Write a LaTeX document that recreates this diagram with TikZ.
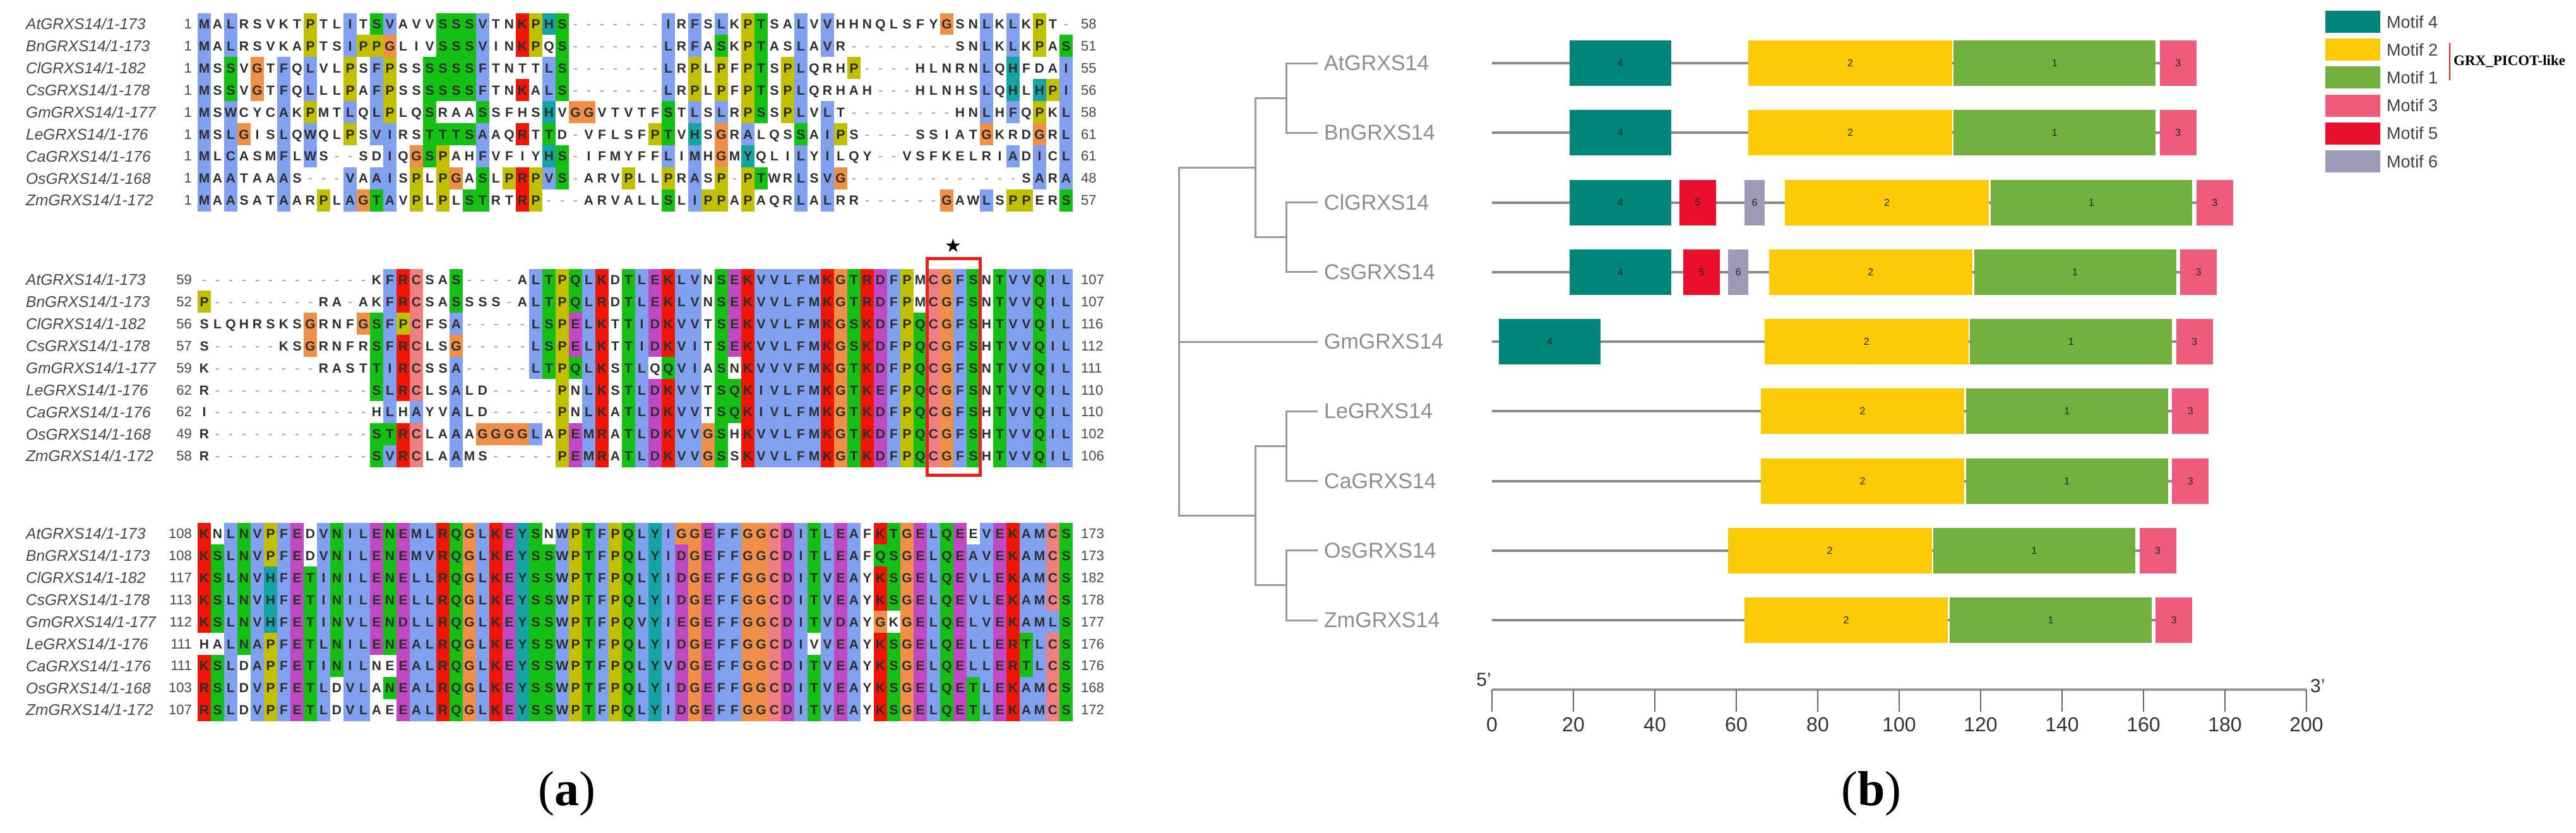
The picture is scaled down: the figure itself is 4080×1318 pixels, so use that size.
\documentclass[tikz,border=0pt]{standalone}
\usepackage{fontspec}
\setmainfont{Liberation Serif}
\setsansfont{Liberation Sans}
\newfontfamily\dejavu{DejaVu Sans}

\definecolor{cxblue}{HTML}{80A0F0}
\definecolor{cxred}{HTML}{F01505}
\definecolor{cxgreen}{HTML}{15C015}
\definecolor{cxpink}{HTML}{F08080}
\definecolor{cxmag}{HTML}{C048C0}
\definecolor{cxorange}{HTML}{F09048}
\definecolor{cxyellow}{HTML}{C0C000}
\definecolor{cxcyan}{HTML}{15A4A4}
\definecolor{reslet}{HTML}{2E2E2E}
\definecolor{gapgray}{HTML}{9A9A9A}
\definecolor{nmgray}{HTML}{484848}
\definecolor{mfour}{HTML}{00857A}
\definecolor{mtwo}{HTML}{FCCB05}
\definecolor{mone}{HTML}{70B03C}
\definecolor{mthree}{HTML}{EF5B7B}
\definecolor{mfive}{HTML}{E8102A}
\definecolor{msix}{HTML}{9C9AB5}
\definecolor{lblgray}{HTML}{8E8E8E}
\definecolor{treegray}{HTML}{9A9A9A}
\definecolor{bbgray}{HTML}{8A8A8A}
\definecolor{axgray}{HTML}{333333}
\definecolor{boxred}{HTML}{E8201E}

\newcommand\ColW{21}
\newcommand\RowH{34.9}
\newcommand\XZero{313}

\tikzset{
  res/.style={font=\sffamily\bfseries\fontsize{21}{23}\selectfont, text=reslet, inner sep=0pt, anchor=base},
  gapch/.style={font=\sffamily\fontsize{22}{24}\selectfont, text=gapgray, inner sep=0pt, anchor=base},
  nm/.style={font=\sffamily\itshape\fontsize{24.5}{26}\selectfont, text=nmgray, anchor=west, inner sep=0pt},
  num/.style={font=\sffamily\fontsize{22}{24}\selectfont, text=nmgray, inner sep=0pt},
  glbl/.style={font=\sffamily\fontsize{34}{36}\selectfont, text=lblgray, anchor=west, inner sep=0pt},
  mlab/.style={font=\sffamily\fontsize{16}{18}\selectfont, text=black!85, inner sep=0pt},
  leg/.style={font=\sffamily\fontsize{27}{29}\selectfont, text=black!75, anchor=west, inner sep=0pt},
  ticklab/.style={font=\sffamily\fontsize{32}{34}\selectfont, text=axgray, inner sep=0pt},
  treeline/.style={draw=treegray, line width=3pt},
  bb/.style={draw=bbgray, line width=4pt},
  capstyle/.style={font=\fontsize{78}{80}\selectfont, inner sep=0pt}
}

\newcommand\aCell[3]{\fill[fill=#1] (#2,#3) rectangle ++(\ColW,\RowH);}
\newcommand\aChar[3]{\node[res] at (#1,#2) {#3};}
\newcommand\aGap[2]{\node[gapch] at (#1,#2) {-};}

\ExplSyntaxOn
\int_new:N \l__aln_hyd_int
\int_new:N \l__aln_kr_int
\int_new:N \l__aln_krq_int
\int_new:N \l__aln_qe_int
\int_new:N \l__aln_ed_int
\int_new:N \l__aln_ts_int
\int_new:N \l__aln_mEQD_int
\int_new:N \l__aln_mKRQ_int
\int_new:N \l__aln_mEQDKR_int
\int_new:N \l__aln_mST_int
\int_new:N \l__aln_mAro_int
\tl_new:N \l__aln_ch_tl
\tl_new:N \l__aln_color_tl
\str_const:Nn \c__aln_letters_str {ACDEFGHIKLMNPQRSTVWY}
\str_map_inline:Nn \c__aln_letters_str { \int_new:c {l__aln_c_#1_int} }
\int_step_inline:nn {9} { \str_new:c {l__aln_row_#1_str} }

\cs_new:Npn \__aln_c:n #1 { \int_use:c {l__aln_c_#1_int} }

\cs_new_protected:Npn \__aln_sumof:Nn #1#2
  { \int_zero:N #1 \str_map_inline:nn {#2} { \int_add:Nn #1 { \int_use:c {l__aln_c_##1_int} } } }
\cs_new_protected:Npn \__aln_maxof:Nn #1#2
  { \int_zero:N #1 \str_map_inline:nn {#2} { \int_set:Nn #1 { \int_max:nn {#1} { \int_use:c {l__aln_c_##1_int} } } } }

\cs_new_protected:Npn \__aln_count_col:n #1
  {
    \str_map_inline:Nn \c__aln_letters_str { \int_zero:c {l__aln_c_##1_int} }
    \int_step_inline:nn {9}
      {
        \tl_set:Ne \l__aln_ch_tl { \exp_args:Nc \str_item:Nn {l__aln_row_##1_str} {#1} }
        \cs_if_exist:cT { l__aln_c_ \l__aln_ch_tl _int }
          { \int_incr:c { l__aln_c_ \l__aln_ch_tl _int } }
      }
    \__aln_sumof:Nn \l__aln_hyd_int {WLVIMAFCHP}
    \__aln_sumof:Nn \l__aln_kr_int {KR}
    \__aln_sumof:Nn \l__aln_krq_int {KRQ}
    \__aln_sumof:Nn \l__aln_qe_int {QE}
    \__aln_sumof:Nn \l__aln_ed_int {ED}
    \__aln_sumof:Nn \l__aln_ts_int {TS}
    \__aln_maxof:Nn \l__aln_mEQD_int {EQD}
    \__aln_maxof:Nn \l__aln_mKRQ_int {KRQ}
    \__aln_maxof:Nn \l__aln_mEQDKR_int {EQDKR}
    \__aln_maxof:Nn \l__aln_mST_int {ST}
    \__aln_maxof:Nn \l__aln_mAro_int {WYACPQFHILMV}
  }

\cs_new_protected:Npn \__aln_set_if:nn #1#2
  { \bool_if:nT {#1} { \tl_set:Nn \l__aln_color_tl {#2} } }
\cs_new_protected:Npn \__aln_hyd:
  { \__aln_set_if:nn { \int_compare_p:nNn {\l__aln_hyd_int} > {5} } {cxblue} }
\cs_new_protected:Npn \__aln_pos:
  { \__aln_set_if:nn { \int_compare_p:nNn {\l__aln_kr_int} > {5} || \int_compare_p:nNn {\l__aln_krq_int} > {7} } {cxred} }
\cs_new_protected:Npn \__aln_st:
  { \__aln_set_if:nn { \int_compare_p:nNn {\l__aln_hyd_int} > {5} || \int_compare_p:nNn {\l__aln_ts_int} > {4} || \int_compare_p:nNn {\l__aln_mST_int} > {7} } {cxgreen} }
\cs_new_protected:Npn \__aln_aro:
  { \__aln_set_if:nn { \int_compare_p:nNn {\l__aln_hyd_int} > {5} || \int_compare_p:nNn {\l__aln_mAro_int} > {7} } {cxcyan} }

\cs_new_protected:Npn \__aln_decide:
  {
    \tl_clear:N \l__aln_color_tl
    \exp_args:NV \str_case:nn \l__aln_ch_tl
      {
        {A}{\__aln_hyd:} {I}{\__aln_hyd:} {L}{\__aln_hyd:} {M}{\__aln_hyd:}
        {F}{\__aln_hyd:} {W}{\__aln_hyd:} {V}{\__aln_hyd:}
        {C}{ \__aln_hyd: \__aln_set_if:nn { \int_compare_p:nNn {\__aln_c:n{C}} > {7} } {cxpink} }
        {K}{\__aln_pos:} {R}{\__aln_pos:}
        {E}{ \__aln_set_if:nn { \int_compare_p:nNn {\l__aln_kr_int} > {5} || \int_compare_p:nNn {\l__aln_qe_int} > {4} || \int_compare_p:nNn {\l__aln_ed_int} > {4} || \int_compare_p:nNn {\l__aln_mEQD_int} > {7} } {cxmag} }
        {D}{ \__aln_set_if:nn { \int_compare_p:nNn {\l__aln_kr_int} > {5} || \int_compare_p:nNn {\l__aln_mKRQ_int} > {7} || \int_compare_p:nNn {\l__aln_ed_int} > {4} } {cxmag} }
        {N}{ \__aln_set_if:nn { \int_compare_p:nNn {\__aln_c:n{N}} > {4} || \int_compare_p:nNn {\__aln_c:n{Y}} > {7} } {cxgreen} }
        {Q}{ \__aln_set_if:nn { \int_compare_p:nNn {\l__aln_kr_int} > {5} || \int_compare_p:nNn {\l__aln_qe_int} > {4} || \int_compare_p:nNn {\l__aln_mEQDKR_int} > {7} } {cxgreen} }
        {S}{\__aln_st:} {T}{\__aln_st:}
        {G}{ \tl_set:Nn \l__aln_color_tl {cxorange} }
        {P}{ \tl_set:Nn \l__aln_color_tl {cxyellow} }
        {H}{\__aln_aro:} {Y}{\__aln_aro:}
      }
  }

\NewDocumentCommand \AlnRows { m m m m m m m m m }
  {
    \str_set:cn {l__aln_row_1_str} {#1}
    \str_set:cn {l__aln_row_2_str} {#2}
    \str_set:cn {l__aln_row_3_str} {#3}
    \str_set:cn {l__aln_row_4_str} {#4}
    \str_set:cn {l__aln_row_5_str} {#5}
    \str_set:cn {l__aln_row_6_str} {#6}
    \str_set:cn {l__aln_row_7_str} {#7}
    \str_set:cn {l__aln_row_8_str} {#8}
    \str_set:cn {l__aln_row_9_str} {#9}
  }

\NewDocumentCommand \AlnBlock { m m }
  {
    \int_step_inline:nn {#2}
      {
        \__aln_count_col:n {##1}
        \int_step_inline:nn {9}
          {
            \tl_set:Ne \l__aln_ch_tl { \exp_args:Nc \str_item:Nn {l__aln_row_####1_str} {##1} }
            \__aln_decide:
            \tl_if_empty:NF \l__aln_color_tl
              {
                \use:e { \exp_not:N \aCell {\l__aln_color_tl}
                  { \fp_eval:n { \XZero + (##1-1)*\ColW } }
                  { \fp_eval:n { #1 + (####1-1)*\RowH } } }
              }
            \str_if_eq:VnTF \l__aln_ch_tl {-}
              {
                \use:e { \exp_not:N \aGap
                  { \fp_eval:n { \XZero + (##1-0.5)*\ColW } }
                  { \fp_eval:n { #1 + (####1-0.5)*\RowH + 7.6 } } }
              }
              {
                \use:e { \exp_not:N \aChar
                  { \fp_eval:n { \XZero + (##1-0.5)*\ColW } }
                  { \fp_eval:n { #1 + (####1-0.5)*\RowH + 7.6 } }
                  { \l__aln_ch_tl } }
              }
          }
      }
  }
\ExplSyntaxOff

\newcommand\AlnLabels[4]{%
  \foreach \nm [count=\i] in {AtGRXS14/1-173,BnGRXS14/1-173,ClGRXS14/1-182,CsGRXS14/1-178,GmGRXS14/1-177,LeGRXS14/1-176,CaGRXS14/1-176,OsGRXS14/1-168,ZmGRXS14/1-172}{%
    \node[nm] at (41,{#1+(\i-0.5)*\RowH}) {\nm};}%
  \foreach \s [count=\i] in {#2}{%
    \node[num,anchor=east] at (304,{#1+(\i-0.5)*\RowH}) {\s};}%
  \foreach \e [count=\i] in {#3}{%
    \node[num,anchor=west] at ({\XZero+#4*\ColW+13},{#1+(\i-0.5)*\RowH}) {\e};}%
}

\newcommand\bx[1]{(2363+(#1)*6.45)}
\newcommand\rowy[1]{(100+110.25*(#1-1))}
\newcommand\motif[5]{%
  \fill[fill=#4] ({\bx{#2}},{\rowy{#1}-36}) rectangle ({\bx{#3}},{\rowy{#1}+36});
  \node[mlab] at ({(\bx{#2}+\bx{#3})/2},{\rowy{#1}}) {#5};}
\newcommand\backbone[2]{\draw[bb] ({\bx{0}},{\rowy{#1}}) -- ({\bx{#2}},{\rowy{#1}});}

\begin{document}
\begin{tikzpicture}[x=1pt,y=-1pt]
\useasboundingbox (0,0) rectangle (4080,1318);
\fill[white] (0,0) rectangle (4080,1318);

% ---------------- Panel (a): alignment ----------------
\AlnRows
{MALRSVKTPTLITSVAVVSSSVTNKPHS-------IRFSLKPTSALVVHHNQLSFYGSNLKLKPT-}
{MALRSVKAPTSIPPGLIVSSSVINKPQS-------LRFASKPTASLAVR--------SNLKLKPAS}
{MSSVGTFQLVLPSFPSSSSSSFTNTTLS-------LRPLPFPTSPLQRHP----HLNRNLQHFDAI}
{MSSVGTFQLLLPAFPSSSSSSFTNKALS-------LRPLPFPTSPLQRHAH---HLNHSLQHLHPI}
{MSWCYCAKPMTLQLPLQSRAASSFHSHVGGVTVTFSTLSLRPSSPLVLT--------HNLHFQPKL}
{MSLGISLQWQLPSVIRSTTTSAAQRTTD-VFLSFPTVHSGRALQSSAIPS----SSIATGKRDGRL}
{MLCASMFLWS--SDIQGSPAHFVFIYHS-IFMYFFLIMHGMYQLILYILQY--VSFKELRIADICL}
{MAATAAAS---VAAISPLPGASLPRPVS-ARVPLLPRASP-PTWRLSVG-------------SARA}
{MAASATAARPLAGTAVPLPLSTRTRP---ARVALLSLIPPAPAQRLALRR------GAWLSPPERS}
\AlnBlock{20.5}{66}
\AlnLabels{20.5}{1,1,1,1,1,1,1,1,1}{58,51,55,56,58,61,61,48,57}{66}

\AlnRows
{-------------KFRCSAS----ALTPQLKDTLEKLVNSEKVVLFMKGTRDFPMCGFSNTVVQIL}
{P--------RA-AKFRCSASSSS-ALTPQLRDTLEKLVNSEKVVLFMKGTRDFPMCGFSNTVVQIL}
{SLQHRSKSGRNFGSFPCFSA-----LSPELKTTIDKVVTSEKVVLFMKGSKDFPQCGFSHTVVQIL}
{S-----KSGRNFRSFRCLSG-----LSPELKTTIDKVITSEKVVLFMKGSKDFPQCGFSHTVVQIL}
{K--------RASTTIRCSSA-----LTPQLKSTLQQVIASNKVVVFMKGTKDFPQCGFSNTVVQIL}
{R------------SLRCLSALD-----PNLKSTLDKVVTSQKIVLFMKGTKEFPQCGFSNTVVQIL}
{I------------HLHAYVALD-----PNLKATLDKVVTSQKIVLFMKGTKDFPQCGFSHTVVQIL}
{R------------STRCLAAAGGGGLAPEMRATLDKVVGSHKVVLFMKGTKDFPQCGFSHTVVQIL}
{R------------SVRCLAAMS-----PEMRATLDKVVGSSKVVLFMKGTKDFPQCGFSHTVVQIL}
\AlnBlock{425.5}{66}
\AlnLabels{425.5}{59,52,56,57,59,62,62,49,58}{107,107,116,112,111,110,110,102,106}{66}

\AlnRows
{KNLNVPFEDVNILENEMLRQGLKEYSNWPTFPQLYIGGEFFGGCDITLEAFKTGELQEEVEKAMCS}
{KSLNVPFEDVNILENEMVRQGLKEYSSWPTFPQLYIDGEFFGGCDITLEAFQSGELQEAVEKAMCS}
{KSLNVHFETINILENELLRQGLKEYSSWPTFPQLYIDGEFFGGCDITVEAYKSGELQEVLEKAMCS}
{KSLNVHFETINILENELLRQGLKEYSSWPTFPQLYIDGEFFGGCDITVEAYKSGELQEVLEKAMCS}
{KSLNVHFETINVLENDLLRQGLKEYSSWPTFPQVYIEGEFFGGCDITVDAYGKGELQELVEKAMLS}
{HALNAPFETLNILENEALRQGLKEYSSWPTFPQLYIDGEFFGGCDIVVEAYKSGELQELLERTLCS}
{KSLDAPFETINILNEEALRQGLKEYSSWPTFPQLYVDGEFFGGCDITVEAYKSGELQELLERTLCS}
{RSLDVPFETLDVLANEALRQGLKEYSSWPTFPQLYIDGEFFGGCDITVEAYKSGELQETLEKAMCS}
{RSLDVPFETLDVLAEEALRQGLKEYSSWPTFPQLYIDGEFFGGCDITVEAYKSGELQETLEKAMCS}
\AlnBlock{827.5}{66}
\AlnLabels{827.5}{108,108,117,113,112,111,111,103,107}{173,173,182,178,177,176,176,168,172}{66}

% red box and star
\draw[draw=boxred, line width=5pt] ({\XZero+55*\ColW},409) rectangle ({\XZero+59*\ColW},752);
\node[font=\dejavu\fontsize{30}{32}\selectfont, inner sep=0pt] (star) at ({\XZero+57*\ColW},389) {★};

\node[capstyle] (capA) at (898,1257) {(\textbf{a})};

% ---------------- Panel (b): tree + motifs ----------------
\node[glbl] (tAt) at (2097,{\rowy{1}}) {AtGRXS14};
\node[glbl] (tBn) at (2097,{\rowy{2}}) {BnGRXS14};
\node[glbl] (tCl) at (2097,{\rowy{3}}) {ClGRXS14};
\node[glbl] (tCs) at (2097,{\rowy{4}}) {CsGRXS14};
\node[glbl] (tGm) at (2097,{\rowy{5}}) {GmGRXS14};
\node[glbl] (tLe) at (2097,{\rowy{6}}) {LeGRXS14};
\node[glbl] (tCa) at (2097,{\rowy{7}}) {CaGRXS14};
\node[glbl] (tOs) at (2097,{\rowy{8}}) {OsGRXS14};
\node[glbl] (tZm) at (2097,{\rowy{9}}) {ZmGRXS14};

\foreach \i in {1,...,9}{\coordinate (leaf\i) at (2087,{\rowy{\i}});}
\coordinate (pAB) at (2037,{(\rowy{1}+\rowy{2})/2});
\coordinate (pCC) at (2037,{(\rowy{3}+\rowy{4})/2});
\coordinate (pLC) at (2037,{(\rowy{6}+\rowy{7})/2});
\coordinate (pOZ) at (2037,{(\rowy{8}+\rowy{9})/2});
\coordinate (cUp) at (1988,{(\rowy{1}+\rowy{2}+\rowy{3}+\rowy{4})/4});
\coordinate (cLo) at (1988,{(\rowy{6}+\rowy{7}+\rowy{8}+\rowy{9})/4});
\coordinate (root) at (1867,{\rowy{5}});

\draw[treeline] (leaf1) -| (pAB) |- (leaf2);
\draw[treeline] (leaf3) -| (pCC) |- (leaf4);
\draw[treeline] (leaf6) -| (pLC) |- (leaf7);
\draw[treeline] (leaf8) -| (pOZ) |- (leaf9);
\draw[treeline] (pAB) -| (cUp) |- (pCC);
\draw[treeline] (pLC) -| (cLo) |- (pOZ);
\draw[treeline] (cUp) -| (root) |- (cLo);
\draw[treeline] (root) -- (leaf5);

\backbone{1}{173}
\backbone{2}{173}
\backbone{3}{182}
\backbone{4}{178}
\backbone{5}{177}
\backbone{6}{176}
\backbone{7}{176}
\backbone{8}{168}
\backbone{9}{172}

\motif{1}{19}{44}{mfour}{4}
\motif{1}{63}{113}{mtwo}{2}
\motif{1}{113.4}{163}{mone}{1}
\motif{1}{164}{173}{mthree}{3}

\motif{2}{19}{44}{mfour}{4}
\motif{2}{63}{113}{mtwo}{2}
\motif{2}{113.4}{163}{mone}{1}
\motif{2}{164}{173}{mthree}{3}

\motif{3}{19}{44}{mfour}{4}
\motif{3}{46}{55}{mfive}{5}
\motif{3}{62}{67}{msix}{6}
\motif{3}{72}{122}{mtwo}{2}
\motif{3}{122.4}{172}{mone}{1}
\motif{3}{173}{182}{mthree}{3}

\motif{4}{19}{44}{mfour}{4}
\motif{4}{47}{56}{mfive}{5}
\motif{4}{58}{63}{msix}{6}
\motif{4}{68}{118}{mtwo}{2}
\motif{4}{118.4}{168}{mone}{1}
\motif{4}{169}{178}{mthree}{3}

\motif{5}{1.7}{26.7}{mfour}{4}
\motif{5}{67}{117}{mtwo}{2}
\motif{5}{117.4}{167}{mone}{1}
\motif{5}{168}{177}{mthree}{3}

\motif{6}{66}{116}{mtwo}{2}
\motif{6}{116.4}{166}{mone}{1}
\motif{6}{167}{176}{mthree}{3}

\motif{7}{66}{116}{mtwo}{2}
\motif{7}{116.4}{166}{mone}{1}
\motif{7}{167}{176}{mthree}{3}

\motif{8}{58}{108}{mtwo}{2}
\motif{8}{108.4}{158}{mone}{1}
\motif{8}{159}{168}{mthree}{3}

\motif{9}{62}{112}{mtwo}{2}
\motif{9}{112.4}{162}{mone}{1}
\motif{9}{163}{172}{mthree}{3}

\coordinate (ax0) at ({\bx{0}},1092);
\coordinate (ax1) at ({\bx{200}},1092);
\draw[draw=gray!80, line width=4pt] (ax0) -- (ax1);
\foreach \tk in {0,20,...,200}{
  \draw[draw=black!60, line width=1.5pt] ({\bx{\tk}},1092) -- ({\bx{\tk}},1127);
  \node[ticklab] at ({\bx{\tk}},1147) {\tk};
}
\node[ticklab, font=\sffamily\fontsize{30}{32}\selectfont] (five) at ({\bx{0}-13},1076) {5'};
\node[ticklab, font=\sffamily\fontsize{30}{32}\selectfont, anchor=west] (three) at ({\bx{200}+6},1086) {3'};

\foreach \k/\cc/\tx in {1/mfour/Motif 4,2/mtwo/Motif 2,3/mone/Motif 1,4/mthree/Motif 3,5/mfive/Motif 5,6/msix/Motif 6}{
  \fill[fill=\cc] (3683,{17+44.2*(\k-1)}) rectangle (3770,{52+44.2*(\k-1)});
  \node[leg] at (3780,{34.5+44.2*(\k-1)}) {\tx};
}
\draw[draw=boxred, line width=2pt] (3880,68) -- (3880,127);
\node[font=\bfseries\fontsize{23}{24}\selectfont, anchor=west, inner sep=0pt] (grx) at (3886,97) {GRX\_PICOT-like};

\node[capstyle] (capB) at (2964,1257) {(\textbf{b})};
\end{tikzpicture}
\end{document}
